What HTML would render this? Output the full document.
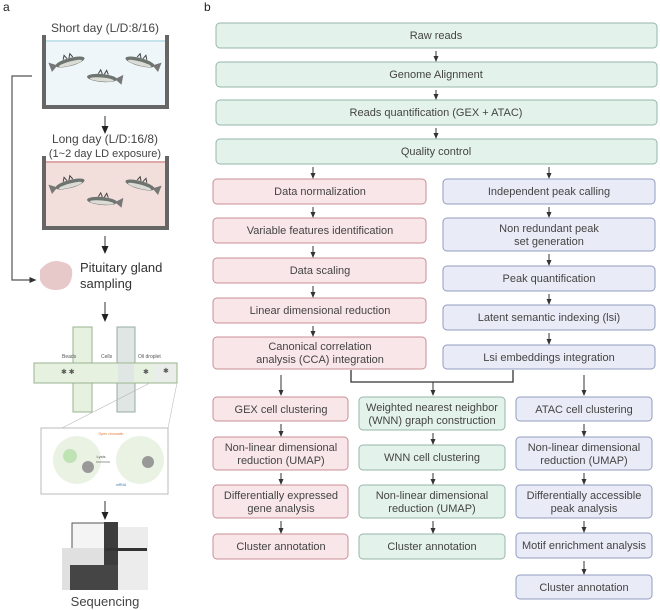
<!DOCTYPE html>
<html><head><meta charset="utf-8"><style>
body{margin:0;background:#fff;}
svg{display:block;font-family:"Liberation Sans",sans-serif;}
.t{font-size:11px;fill:#444;text-anchor:middle;}
.g{fill:#e4f2ec;stroke:#94b6a8;stroke-width:1;}
.p{fill:#f9e6e8;stroke:#c98f95;stroke-width:1;}
.b{fill:#e9ecf7;stroke:#929bbf;stroke-width:1;}
.ar{stroke:#333;stroke-width:1;}
</style></head><body>
<svg width="660" height="610" viewBox="0 0 660 610" xmlns="http://www.w3.org/2000/svg">
<defs>
<marker id="m" markerWidth="6" markerHeight="6" refX="3" refY="3" orient="auto"><path d="M0,0.5 L6,3 L0,5.5z" fill="#333"/></marker>
<marker id="mb" markerWidth="8" markerHeight="8" refX="4" refY="4" orient="auto"><path d="M0,0.5 L8,4 L0,7.5z" fill="#222"/></marker>
<g id="fish"><ellipse cx="0" cy="0" rx="15" ry="4" fill="#6e7470"/><ellipse cx="0" cy="1.5" rx="12" ry="2" fill="#dcdcd6"/><path d="M13,0 L21,-5 L20,5z" fill="#777"/><path d="M-4,-4 L-2,-8 L0,-4 M2,-4 L4,-8 L6,-4" stroke="#444" fill="none"/></g>
</defs>
<text x="3" y="11" style="font-size:12px" fill="#222">a</text>
<text x="204" y="11" style="font-size:12px" fill="#222">b</text>

<!-- left panel -->
<text x="105" y="32" style="font-size:12px;text-anchor:middle" fill="#444">Short day (L/D:8/16)</text>
<rect x="45" y="40" width="121" height="66" fill="#eef6fa"/>
<line x1="46" y1="41" x2="165" y2="41" stroke="#9fd0de" stroke-width="1"/>
<rect x="42" y="35" width="4" height="73" fill="#666"/><rect x="165" y="35" width="4" height="73" fill="#666"/><rect x="42" y="105" width="127" height="4" fill="#666"/>
<use href="#fish" transform="translate(70,62) rotate(-15) scale(-1,1)"/>
<use href="#fish" transform="translate(140,62) rotate(15)"/>
<use href="#fish" transform="translate(102,78) rotate(5)"/>
<line x1="105" y1="116" x2="105" y2="130" class="ar" marker-end="url(#mb)"/>
<text x="105" y="143" style="font-size:12px;text-anchor:middle" fill="#444">Long day (L/D:16/8)</text>
<text x="105" y="157" style="font-size:11px;text-anchor:middle" fill="#444">(1~2 day LD exposure)</text>
<rect x="45" y="161" width="121" height="66" fill="#f2dfdc"/>
<line x1="46" y1="162" x2="165" y2="162" stroke="#c9707a" stroke-width="1"/>
<rect x="42" y="156" width="4" height="73" fill="#666"/><rect x="165" y="156" width="4" height="73" fill="#666"/><rect x="42" y="226" width="127" height="4" fill="#666"/>
<use href="#fish" transform="translate(70,184) rotate(-15) scale(-1,1)"/>
<use href="#fish" transform="translate(140,185) rotate(15)"/>
<use href="#fish" transform="translate(102,201) rotate(5)"/>
<line x1="105" y1="236" x2="105" y2="250" class="ar" marker-end="url(#mb)"/>
<path d="M40,270 Q50,258 62,262 Q74,264 72,276 Q70,290 56,290 Q44,290 40,280z" fill="#e7c9c9"/>
<text x="80" y="272" style="font-size:13px" fill="#333">Pituitary gland</text>
<text x="80" y="288" style="font-size:13px" fill="#333">sampling</text>
<path d="M32,76 L12,76 L12,280 L33,280" fill="none" stroke="#555" stroke-width="1.2" marker-end="url(#m)"/>
<line x1="105" y1="302" x2="105" y2="318" class="ar" marker-end="url(#mb)"/>
<!-- microfluidics -->
<rect x="73" y="327" width="19" height="85" fill="#e6f1df" stroke="#9bb392"/>
<rect x="117" y="327" width="18" height="85" fill="#dfe6e4" stroke="#99ab9f"/>
<rect x="34" y="363" width="143" height="20" fill="#e6f1df" stroke="#9bb392"/>
<rect x="74" y="364" width="17" height="18" fill="#e6f1df"/>
<rect x="118" y="364" width="16" height="18" fill="#dfe6e4"/>
<rect x="153" y="364" width="23" height="18" fill="#e9eeea"/>
<text x="62" y="358" style="font-size:5px" fill="#555">Beads</text>
<text x="101" y="358" style="font-size:5px" fill="#555">Cells</text>
<text x="138" y="358" style="font-size:5px" fill="#555">Oil droplet</text>
<text x="61" y="374" style="font-size:7px" fill="#555">✱ ✱</text><text x="143" y="374" style="font-size:7px" fill="#555">✱</text><text x="163" y="373" style="font-size:7px" fill="#555">✱</text>
<line x1="150" y1="383" x2="62" y2="428" stroke="#bbb" stroke-width="0.6"/><line x1="177" y1="383" x2="168" y2="428" stroke="#bbb" stroke-width="0.6"/>
<rect x="41" y="428" width="127" height="66" fill="#fff" stroke="#bbb"/>
<circle cx="77" cy="460" r="24" fill="#eaf3e3"/><circle cx="140" cy="460" r="24" fill="#eaf3e3"/>
<circle cx="70" cy="456" r="7" fill="#bfe3b5"/><circle cx="88" cy="467" r="6" fill="#999"/><circle cx="148" cy="462" r="6" fill="#999"/>
<text x="101" y="458" style="font-size:4px;text-anchor:middle" fill="#555">Lysis</text>
<line x1="96" y1="462" x2="110" y2="462" stroke="#555" stroke-width="0.6"/>
<text x="111" y="435" style="font-size:3.5px;text-anchor:middle" fill="#e07a3a">Open chromatin</text>
<text x="121" y="486" style="font-size:3.5px;text-anchor:middle" fill="#3a7aa8">mRNA</text>
<line x1="105" y1="501" x2="105" y2="516" class="ar" marker-end="url(#mb)"/>
<!-- sequencer -->
<rect x="72" y="523" width="40" height="33" fill="#f4f4f4" stroke="#555"/>
<rect x="62" y="548" width="86" height="42" fill="#e0e0e0"/>
<rect x="104" y="522" width="14" height="68" fill="#3c3c3c"/>
<rect x="70" y="565" width="48" height="25" fill="#454545"/>
<rect x="118" y="527" width="30" height="63" fill="#ececec"/>
<rect x="105" y="548" width="42" height="3" fill="#333"/>
<text x="105" y="606" style="font-size:13px;text-anchor:middle" fill="#444">Sequencing</text>

<!-- flowchart -->
<g>
<rect x="216" y="23" width="441" height="25" rx="4" class="g"/><text x="436" y="39" class="t">Raw reads</text>
<rect x="216" y="62" width="441" height="25" rx="4" class="g"/><text x="436" y="78" class="t">Genome Alignment</text>
<rect x="216" y="100" width="441" height="25" rx="4" class="g"/><text x="436" y="116" class="t">Reads quantification (GEX + ATAC)</text>
<rect x="216" y="139" width="441" height="25" rx="4" class="g"/><text x="436" y="155" class="t">Quality control</text>
<line x1="436" y1="51" x2="436" y2="59" class="ar" marker-end="url(#m)"/>
<line x1="436" y1="90" x2="436" y2="97" class="ar" marker-end="url(#m)"/>
<line x1="436" y1="128" x2="436" y2="136" class="ar" marker-end="url(#m)"/>
<line x1="313" y1="167" x2="313" y2="176" class="ar" marker-end="url(#m)"/>
<line x1="549" y1="167" x2="549" y2="176" class="ar" marker-end="url(#m)"/>

<rect x="213" y="179" width="213" height="25" rx="4" class="p"/><text x="320" y="195" class="t">Data normalization</text>
<rect x="213" y="218" width="213" height="25" rx="4" class="p"/><text x="320" y="234" class="t">Variable features identification</text>
<rect x="213" y="258" width="213" height="25" rx="4" class="p"/><text x="320" y="274" class="t">Data scaling</text>
<rect x="213" y="298" width="213" height="25" rx="4" class="p"/><text x="320" y="314" class="t">Linear dimensional reduction</text>
<rect x="213" y="337" width="213" height="32" rx="4" class="p"/><text x="320" y="350" class="t">Canonical correlation</text><text x="320" y="363" class="t">analysis (CCA) integration</text>
<line x1="313" y1="207" x2="313" y2="215" class="ar" marker-end="url(#m)"/>
<line x1="313" y1="246" x2="313" y2="255" class="ar" marker-end="url(#m)"/>
<line x1="313" y1="286" x2="313" y2="295" class="ar" marker-end="url(#m)"/>
<line x1="313" y1="326" x2="313" y2="334" class="ar" marker-end="url(#m)"/>

<rect x="443" y="179" width="212" height="25" rx="4" class="b"/><text x="549" y="195" class="t">Independent peak calling</text>
<rect x="443" y="218" width="212" height="33" rx="4" class="b"/><text x="549" y="232" class="t">Non redundant peak</text><text x="549" y="245" class="t">set generation</text>
<rect x="443" y="266" width="212" height="25" rx="4" class="b"/><text x="549" y="282" class="t">Peak quantification</text>
<rect x="443" y="305" width="212" height="25" rx="4" class="b"/><text x="549" y="321" class="t">Latent semantic indexing (lsi)</text>
<rect x="443" y="345" width="212" height="24" rx="4" class="b"/><text x="549" y="361" class="t">Lsi embeddings integration</text>
<line x1="549" y1="207" x2="549" y2="215" class="ar" marker-end="url(#m)"/>
<line x1="549" y1="254" x2="549" y2="263" class="ar" marker-end="url(#m)"/>
<line x1="549" y1="294" x2="549" y2="302" class="ar" marker-end="url(#m)"/>
<line x1="549" y1="333" x2="549" y2="342" class="ar" marker-end="url(#m)"/>

<path d="M351,370 L351,382 L513,382 L513,370" fill="none" stroke="#333" stroke-width="1.3"/>
<line x1="433" y1="382" x2="433" y2="393" class="ar" marker-end="url(#m)"/>
<line x1="281" y1="375" x2="281" y2="393" class="ar" marker-end="url(#m)"/>
<line x1="584" y1="375" x2="584" y2="393" class="ar" marker-end="url(#m)"/>

<rect x="213" y="397" width="135" height="24" rx="4" class="p"/><text x="281" y="413" class="t">GEX cell clustering</text>
<rect x="213" y="437" width="135" height="33" rx="4" class="p"/><text x="281" y="451" class="t">Non-linear dimensional</text><text x="281" y="464" class="t">reduction (UMAP)</text>
<rect x="213" y="485" width="135" height="33" rx="4" class="p"/><text x="281" y="499" class="t">Differentially expressed</text><text x="281" y="512" class="t">gene analysis</text>
<rect x="213" y="534" width="135" height="25" rx="4" class="p"/><text x="281" y="550" class="t">Cluster annotation</text>
<line x1="281" y1="424" x2="281" y2="434" class="ar" marker-end="url(#m)"/>
<line x1="281" y1="473" x2="281" y2="482" class="ar" marker-end="url(#m)"/>
<line x1="281" y1="521" x2="281" y2="531" class="ar" marker-end="url(#m)"/>

<rect x="359" y="397" width="146" height="33" rx="4" class="g"/><text x="432" y="411" class="t">Weighted nearest neighbor</text><text x="432" y="424" class="t">(WNN) graph construction</text>
<rect x="359" y="445" width="146" height="25" rx="4" class="g"/><text x="432" y="461" class="t">WNN cell clustering</text>
<rect x="359" y="485" width="146" height="33" rx="4" class="g"/><text x="432" y="499" class="t">Non-linear dimensional</text><text x="432" y="512" class="t">reduction (UMAP)</text>
<rect x="359" y="534" width="146" height="25" rx="4" class="g"/><text x="432" y="550" class="t">Cluster annotation</text>
<line x1="433" y1="433" x2="433" y2="442" class="ar" marker-end="url(#m)"/>
<line x1="433" y1="473" x2="433" y2="482" class="ar" marker-end="url(#m)"/>
<line x1="433" y1="521" x2="433" y2="531" class="ar" marker-end="url(#m)"/>

<rect x="516" y="397" width="136" height="24" rx="4" class="b"/><text x="584" y="413" class="t">ATAC cell clustering</text>
<rect x="516" y="437" width="136" height="33" rx="4" class="b"/><text x="584" y="451" class="t">Non-linear dimensional</text><text x="584" y="464" class="t">reduction (UMAP)</text>
<rect x="516" y="485" width="136" height="33" rx="4" class="b"/><text x="584" y="499" class="t">Differentially accessible</text><text x="584" y="512" class="t">peak analysis</text>
<rect x="516" y="533" width="136" height="25" rx="4" class="b"/><text x="584" y="549" class="t">Motif enrichment analysis</text>
<rect x="516" y="575" width="136" height="24" rx="4" class="b"/><text x="584" y="591" class="t">Cluster annotation</text>
<line x1="584" y1="424" x2="584" y2="434" class="ar" marker-end="url(#m)"/>
<line x1="584" y1="473" x2="584" y2="482" class="ar" marker-end="url(#m)"/>
<line x1="584" y1="521" x2="584" y2="530" class="ar" marker-end="url(#m)"/>
<line x1="584" y1="561" x2="584" y2="572" class="ar" marker-end="url(#m)"/>
</g>
</svg>
</body></html>
